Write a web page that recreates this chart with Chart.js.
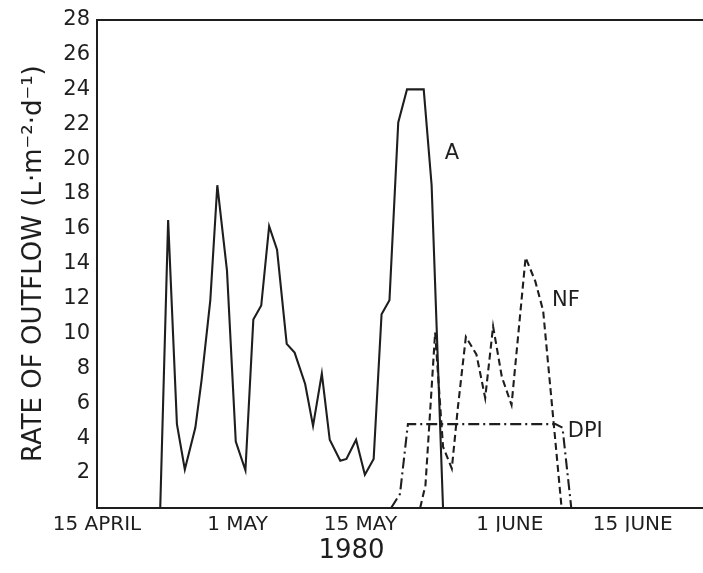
<!DOCTYPE html>
<html>
<head>
<meta charset="utf-8">
<script src="https://cdn.jsdelivr.net/npm/chart.js@4.4.0/dist/chart.umd.min.js"></script>
<style>
  html, body { margin: 0; padding: 0; background: #fff; }
</style>
</head>
<body>
<canvas id="outflowChart" width="703" height="573"></canvas>
<script>
// x values are days counted from 15 April 1980
const tickDays = [0, 16, 30, 47, 61];
const tickLabels = ["15 APRIL", "1 MAY", "15 MAY", "1 JUNE", "15 JUNE"];

// Treatment A (solid line)
const daysA = [7.2, 8.1, 9.1, 10.0, 11.2, 11.9, 12.9, 13.7, 14.8, 15.8, 16.9, 17.8, 18.7, 19.6,
  20.5, 21.6, 22.5, 23.7, 24.6, 25.6, 26.5, 27.7, 28.4, 29.5, 30.5, 31.5, 32.4, 33.3, 34.3,
  35.3, 37.2, 38.1, 39.4];
const valuesA = [0, 16.5, 4.8, 2.2, 4.6, 7.3, 11.9, 18.5, 13.6, 3.8, 2.15, 10.8, 11.6, 16.15,
  14.8, 9.4, 8.9, 7.1, 4.7, 7.7, 3.9, 2.7, 2.8, 3.9, 1.9, 2.8, 11.1, 11.9, 22.1,
  24.0, 24.0, 18.5, 0];

// Treatment NF (dashed line)
const daysNF = [36.8, 37.4, 38.5, 39.4, 40.4, 41.1, 42.0, 43.2, 44.2, 45.1, 46.1, 47.2, 48.8,
  49.9, 50.8, 52.9];
const valuesNF = [0, 1.3, 10.05, 3.5, 2.25, 5.8, 9.8, 8.8, 6.3, 10.4, 7.5, 5.9, 14.35,
  13.0, 11.3, 0];

// Treatment DPI (dash-dot line)
const daysDPI = [33.5, 34.5, 35.4, 52.2, 53.0, 54.0];
const valuesDPI = [0, 0.8, 4.8, 4.8, 4.6, 0];

// Curve labels: text, day, value
const curveLabels = [
  ["A", 39.6, 20.3],
  ["NF", 51.8, 11.9],
  ["DPI", 53.6, 4.35]
];

const ink = "#1e1e1e";
const fontFamily = "'DejaVu Sans', sans-serif";

function toPoints(xs, ys) {
  return xs.map((x, i) => ({ x: x, y: ys[i] }));
}

// Draw the A / NF / DPI tags next to their curves
const curveLabelPlugin = {
  id: "curveLabels",
  afterDatasetsDraw(chart) {
    const ctx = chart.ctx;
    const xs = chart.scales.x;
    const ys = chart.scales.y;
    ctx.save();
    ctx.fillStyle = ink;
    ctx.font = "21px " + fontFamily;
    ctx.textAlign = "left";
    ctx.textBaseline = "middle";
    curveLabels.forEach(([text, d, v]) => {
      ctx.fillText(text, xs.getPixelForValue(d), ys.getPixelForValue(v));
    });
    ctx.restore();
  }
};

const lineStyle = {
  borderColor: ink,
  borderWidth: 2.1,
  pointRadius: 0,
  tension: 0,
  fill: false
};

new Chart(document.getElementById("outflowChart").getContext("2d"), {
  type: "line",
  data: {
    datasets: [
      { ...lineStyle, label: "A", data: toPoints(daysA, valuesA) },
      { ...lineStyle, label: "NF", data: toPoints(daysNF, valuesNF), borderDash: [7, 4] },
      { ...lineStyle, label: "DPI", data: toPoints(daysDPI, valuesDPI), borderDash: [11, 4, 2, 4] }
    ]
  },
  options: {
    responsive: false,
    animation: false,
    devicePixelRatio: 1,
    layout: { padding: { top: 18, left: 0, right: 0, bottom: 0 } },
    plugins: {
      legend: { display: false },
      tooltip: { enabled: false },
      title: {
        display: true,
        position: "bottom",
        text: "1980",
        color: ink,
        font: { family: fontFamily, size: 26, weight: "normal" },
        padding: { top: 4, bottom: 6 }
      }
    },
    scales: {
      x: {
        type: "linear",
        position: "bottom",
        min: 0,
        max: 69,
        afterBuildTicks: (scale) => {
          scale.ticks = tickDays.map((d) => ({ value: d }));
        },
        afterFit: (scale) => { scale.height = 24; },
        ticks: {
          autoSkip: false,
          maxRotation: 0,
          padding: 5,
          color: ink,
          font: { family: fontFamily, size: 20 },
          callback: (v) => tickLabels[tickDays.indexOf(v)]
        },
        grid: { display: false, drawTicks: false },
        border: { display: true, color: ink, width: 2 }
      },
      xTop: {
        type: "linear",
        position: "top",
        min: 0,
        max: 69,
        afterFit: (scale) => { scale.height = 0; },
        ticks: { display: false },
        grid: { display: false, drawTicks: false },
        border: { display: true, color: ink, width: 2 }
      },
      y: {
        min: 0,
        max: 28,
        afterFit: (scale) => { scale.width = 97; },
        ticks: {
          stepSize: 2,
          padding: 7,
          color: ink,
          font: { family: fontFamily, size: 21 },
          callback: (v) => (v === 0 ? "" : v)
        },
        grid: { display: false, drawTicks: false },
        border: { display: true, color: ink, width: 2 },
        title: {
          display: true,
          text: "RATE OF OUTFLOW (L·m⁻²·d⁻¹)",
          color: ink,
          font: { family: fontFamily, size: 26 },
          padding: { top: 19, bottom: 0 }
        }
      }
    }
  },
  plugins: [curveLabelPlugin]
});
</script>
</body>
</html>
